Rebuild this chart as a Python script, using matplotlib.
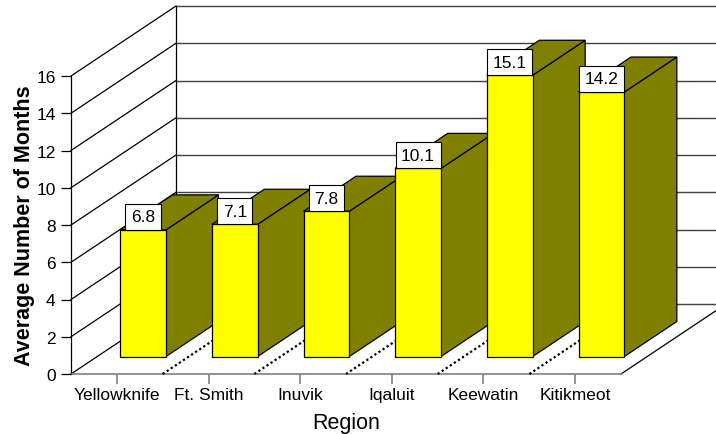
import matplotlib
matplotlib.use("Agg")
import matplotlib.pyplot as plt
from matplotlib.patches import Polygon

plt.rcParams['font.family'] = ['Liberation Sans', 'DejaVu Sans']

# Data
regions = ["Yellowknife", "Ft. Smith", "Inuvik", "Iqaluit", "Keewatin", "Kitikmeot"]
months = [6.8, 7.1, 7.8, 10.1, 15.1, 14.2]
y_ticks = [0, 2, 4, 6, 8, 10, 12, 14, 16]

# Oblique projection of the depth axis into data units
DX = 1.1455   # horizontal shift (categories) for full depth
DY = 3.758    # vertical shift (value units) for full depth
Z0, Z1 = 0.25, 0.75   # bar front / back depth
BAR_W = 0.5

FRONT = "#FFFF00"
SIDE = "#808000"


def proj(x, y, z):
    return (x + DX * z, y + DY * z)


fig = plt.figure(figsize=(7.16, 4.35), dpi=100)
ax = fig.add_axes([71 / 716, 60 / 435, 550 / 716, 298 / 435])
ax.set_xlim(0, len(regions))
ax.set_ylim(0, 16)
ax.patch.set_visible(False)

n = len(regions)
ymax = y_ticks[-1]

# Walls: back-wall gridlines and left-wall diagonals
for v in y_ticks:
    xs, ys = zip(proj(0, v, 1), proj(n, v, 1))
    ax.plot(xs, ys, color="#404040", lw=1.0, clip_on=False, zorder=1)
    xs, ys = zip(proj(0, v, 0), proj(0, v, 1))
    ax.plot(xs, ys, color="black", lw=0.9, clip_on=False, zorder=1)
xs, ys = zip(proj(0, 0, 1), proj(0, ymax, 1))
ax.plot(xs, ys, color="black", lw=0.9, clip_on=False, zorder=1)
xs, ys = zip(proj(n, 0, 1), proj(n, ymax, 1))
ax.plot(xs, ys, color="black", lw=0.9, clip_on=False, zorder=1)

# Floor: right edge and dotted category separators
xs, ys = zip(proj(n, 0, 0), proj(n, 0, 1))
ax.plot(xs, ys, color="black", lw=0.9, clip_on=False, zorder=1)
for k in range(1, n):
    xs, ys = zip(proj(k, 0, 0), proj(k, 0, 1))
    ax.plot(xs, ys, color="black", lw=1.6, ls=(0, (1, 1.2)),
            clip_on=False, zorder=1.5)

# Bars: side, top, then the front face from ax.bar
for i, v in enumerate(months):
    x0 = i + 0.5 - BAR_W / 2
    x1 = i + 0.5 + BAR_W / 2
    z = 2 + i * 0.1
    side = [proj(x1, 0, Z0), proj(x1, 0, Z1), proj(x1, v, Z1), proj(x1, v, Z0)]
    top = [proj(x0, v, Z0), proj(x1, v, Z0), proj(x1, v, Z1), proj(x0, v, Z1)]
    ax.add_patch(Polygon(side, closed=True, fc=SIDE, ec="black", lw=0.9,
                         clip_on=False, zorder=z))
    ax.add_patch(Polygon(top, closed=True, fc=SIDE, ec="black", lw=0.9,
                         clip_on=False, zorder=z + 0.01))
    fx, fy = proj(i + 0.5, 0, Z0)
    ax.bar([fx], [v], bottom=fy, width=BAR_W, color=FRONT, edgecolor="black",
           lw=0.9, clip_on=False, zorder=z + 0.02)

# Value labels
LABEL_FS = 12.5
PAD = 0.32
for i, v in enumerate(months):
    fx, fy = proj(i + 0.5, v, Z0)
    ax.annotate(f"{v:.1f}", xy=(fx, fy), xytext=(0, PAD * LABEL_FS),
                textcoords="offset points", ha="center", va="bottom",
                fontsize=LABEL_FS, color="black", zorder=10,
                annotation_clip=False,
                bbox=dict(boxstyle=f"square,pad={PAD}", fc="white",
                          ec="black", lw=0.8))

# Axes, ticks and labels
for s in ("top", "right"):
    ax.spines[s].set_visible(False)
ax.spines["left"].set_color("black")
ax.spines["left"].set_linewidth(0.9)
ax.spines["bottom"].set_color("#808080")
ax.spines["bottom"].set_linewidth(1.2)
ax.spines["left"].set_zorder(1)
ax.spines["bottom"].set_zorder(1)

ax.set_yticks(y_ticks)
ax.set_yticklabels([str(t) for t in y_ticks])
ax.set_xticks([i + 0.5 for i in range(n)])
ax.set_xticklabels(regions)
ax.tick_params(axis="y", direction="out", length=7.5, width=0.9,
               color="black", labelsize=12.5, pad=3.5)
ax.tick_params(axis="x", direction="out", length=7.2, width=1.2,
               color="#808080", labelsize=12.5, pad=2.5)

fig.text(24.5 / 716, 1 - 226 / 435, "Average Number of Months",
         rotation=90, ha="center", va="center", fontsize=15.5,
         fontweight="bold")
fig.text(346.5 / 716, (435 - 429) / 435, "Region", ha="center",
         va="baseline", fontsize=15.5)

fig.savefig("out.png", dpi=100)
